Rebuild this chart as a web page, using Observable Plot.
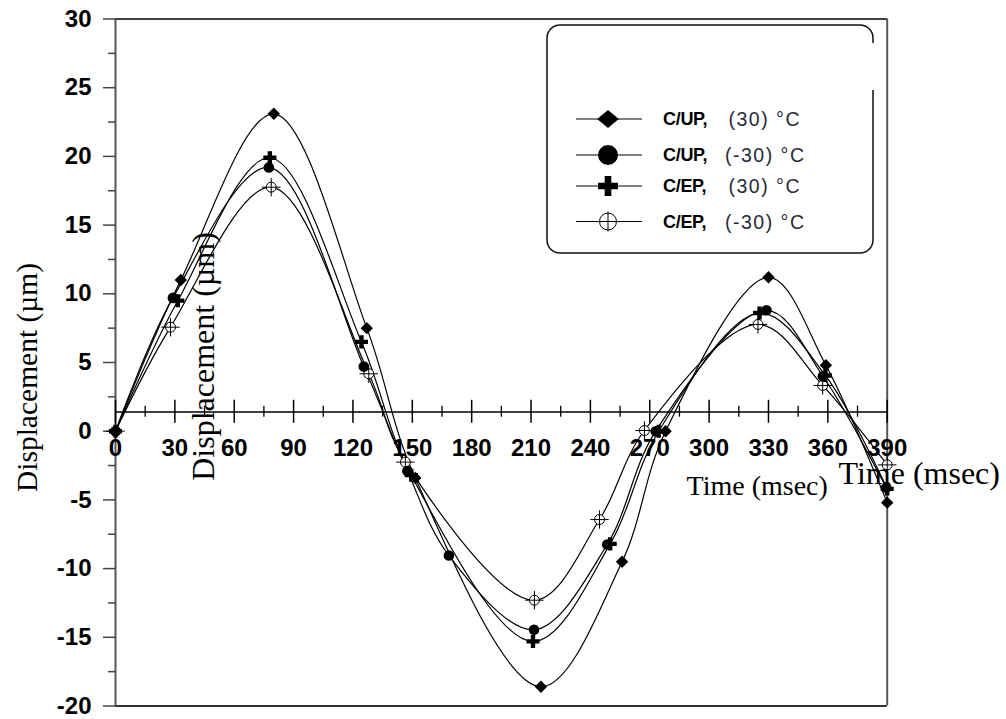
<!DOCTYPE html>
<html><head><meta charset="utf-8">
<script src="https://cdn.jsdelivr.net/npm/d3@7"></script>
<script src="https://cdn.jsdelivr.net/npm/@observablehq/plot@0.6"></script>
<style>
body{margin:0;background:#fff}
#wrap{position:relative;width:1006px;height:719px;overflow:hidden}
#wrap svg{display:block}
</style>
</head><body><div id="wrap"></div>
<script>
// ---- data ----
const seriesNames = ["C/UP,", "C/UP,", "C/EP,", "C/EP,"];
const seriesTemps = ["(30) °C", "(-30) °C", "(30) °C", "(-30) °C"];

const timeUP30 = [0, 33, 80, 127, 151.5, 215, 256, 278, 330, 359, 390];
const dispUP30 = [0, 11.0, 23.1, 7.5, -3.4, -18.6, -9.5, 0, 11.2, 4.8, -5.2];

const timeUPm30 = [0, 29, 77.5, 125.5, 147.5, 168.5, 211.5, 248.5, 273, 329, 357.5, 389.5];
const dispUPm30 = [0, 9.7, 19.2, 4.7, -2.9, -9.05, -14.45, -8.25, 0, 8.8, 4.0, -4.1];

const timeEP30 = [0, 31.5, 78, 124.3, 149.5, 211, 250, 274.5, 325.5, 358.8, 390];
const dispEP30 = [0, 9.5, 19.9, 6.5, -3.2, -15.3, -8.2, 0, 8.6, 4.05, -4.2];

const timeEPm30 = [0, 27.8, 78.7, 128, 146.5, 211.7, 244.6, 267.3, 324.7, 357.4, 390];
const dispEPm30 = [0, 7.57, 17.76, 4.18, -2.25, -12.3, -6.43, 0.05, 7.77, 3.33, -2.45];

const xTicksMajor = [0, 30, 60, 90, 120, 150, 180, 210, 240, 270, 300, 330, 360, 390];
const xTicksMinor = [15, 45, 75, 105, 135, 165, 195, 225, 255, 285, 315, 345, 375];
const yTicksMajor = [-20, -15, -10, -5, 0, 5, 10, 15, 20, 25, 30];
const yTicksMinor = [-17.5, -12.5, -7.5, -2.5, 2.5, 7.5, 12.5, 17.5, 22.5, 27.5];
const yLabel = "Displacement (\u00b5m)";
const xLabel = "Time (msec)";
const xAxisAt = 1.4; // level where the time axis line crosses

const toRows = (t, v) => t.map((d, i) => ({t: d, v: v[i]}));
const s1 = toRows(timeUP30, dispUP30);
const s2 = toRows(timeUPm30, dispUPm30);
const s3 = toRows(timeEP30, dispEP30);
const s4 = toRows(timeEPm30, dispEPm30);

const lineOpts = {x: "t", y: "v", curve: "catmull-rom", stroke: "black", strokeWidth: 1.2};
const serif = "'Liberation Serif', 'Times New Roman', serif";

const chart = Plot.plot({
  width: 1006, height: 719,
  marginLeft: 115, marginRight: 119.3, marginTop: 18.5, marginBottom: 13.5,
  x: {domain: [0, 390], axis: null},
  y: {domain: [-20, 30]},
  style: {fontFamily: "'Liberation Sans', Arial, sans-serif", background: "white", overflow: "visible"},
  marks: [
    // frame
    Plot.ruleY([30], {stroke: "black", strokeWidth: 1.3}),
    Plot.ruleY([-20], {stroke: "#333", strokeWidth: 1.8}),
    Plot.ruleX([390], {stroke: "#555", strokeWidth: 2}),
    Plot.ruleX([0], {stroke: "#555", strokeWidth: 2}),
    // y axis
    Plot.axisY(yTicksMajor, {tickSize: 12, tickPadding: 12, fontSize: 24, fontWeight: "bold",
      stroke: "#444", strokeWidth: 1.5, fill: "black", tickFormat: d => String(d), label: null}),
    Plot.axisY(yTicksMinor, {tickSize: 7, stroke: "#444", strokeWidth: 1.5, tickFormat: () => "", label: null}),
    // time axis line with crossing ticks
    Plot.ruleY([xAxisAt], {x1: 0, x2: 390, stroke: "black", strokeWidth: 1.5}),
    Plot.ruleX(xTicksMajor, {x: d => d, y1: xAxisAt + 0.85, y2: xAxisAt - 0.82, stroke: "black", strokeWidth: 1.5}),
    Plot.ruleX(xTicksMinor, {x: d => d, y1: xAxisAt + 0.42, y2: xAxisAt - 0.38, stroke: "black", strokeWidth: 1.3}),
    Plot.text(xTicksMajor, {x: d => d, y: 0, dy: 17.5, text: d => String(d), fontSize: 24, fontWeight: "bold", fill: "black"}),
    // curves
    Plot.line(s1, lineOpts),
    Plot.line(s2, lineOpts),
    Plot.line(s3, lineOpts),
    Plot.line(s4, lineOpts),
    // markers
    Plot.dot(s4, {x: "t", y: "v", symbol: "circle", r: 5, fill: "white", stroke: "black", strokeWidth: 1}),
    Plot.dot(s4, {x: "t", y: "v", symbol: "plus", r: 6, stroke: "black", strokeWidth: 1}),
    Plot.dot(s3, {x: "t", y: "v", symbol: "cross", r: 5.5, fill: "black", stroke: null}),
    Plot.dot(s2, {x: "t", y: "v", symbol: "circle", r: 5.3, fill: "black", stroke: null}),
    Plot.dot(s1, {x: "t", y: "v", symbol: "diamond2", r: 5.6, fill: "black", stroke: null}),
    // axis titles
    Plot.text([yLabel], {frameAnchor: "left", dx: -88, dy: 15, rotate: -90, textAnchor: "middle", lineAnchor: "middle",
      fontFamily: serif, fontSize: 29.5, fill: "black"}),
    Plot.text([yLabel], {frameAnchor: "left", dx: 88, dy: -6, rotate: -90, textAnchor: "middle", lineAnchor: "middle",
      fontFamily: serif, fontSize: 32, fill: "black"}),
    Plot.text([xLabel], {frameAnchor: "bottom-right", dx: -130, dy: -219.5, textAnchor: "middle", lineAnchor: "middle",
      fontFamily: serif, fontSize: 28, fill: "black"}),
    Plot.text([xLabel], {frameAnchor: "bottom-right", dx: -48.7, dy: -232, textAnchor: "start", lineAnchor: "middle",
      fontFamily: serif, fontSize: 32, fill: "black"})
  ]
});
document.getElementById("wrap").appendChild(chart);

// ---- legend (overlay) ----
const leg = d3.select("#wrap").append("svg")
  .attr("width", 360).attr("height", 245)
  .style("position", "absolute").style("left", "540px").style("top", "20px")
  .style("overflow", "visible");
leg.append("rect").attr("x", 7).attr("y", 5).attr("width", 326).attr("height", 228)
  .attr("rx", 13).attr("fill", "white").attr("stroke", "#111").attr("stroke-width", 1.5);
leg.append("rect").attr("x", 325).attr("y", 23).attr("width", 20).attr("height", 47).attr("fill", "white");

const rowsY = [99, 135, 166, 201.5];
const symCx = 68;
rowsY.forEach((yy, i) => {
  const g = leg.append("g");
  g.append("line").attr("x1", 36).attr("x2", 102).attr("y1", yy).attr("y2", yy)
    .attr("stroke", "black").attr("stroke-width", 1.2);
  if (i === 0) {
    g.append("path").attr("d", d3.symbol(d3.symbolDiamond2, 240)())
      .attr("transform", `translate(${symCx},${yy}) scale(1.12,0.92)`).attr("fill", "black");
  } else if (i === 1) {
    g.append("circle").attr("cx", symCx).attr("cy", yy).attr("r", 10).attr("fill", "black");
  } else if (i === 2) {
    g.append("path").attr("d", d3.symbol(d3.symbolCross, 222)())
      .attr("transform", `translate(${symCx},${yy})`).attr("fill", "black");
  } else {
    g.append("circle").attr("cx", symCx).attr("cy", yy).attr("r", 8.5).attr("fill", "white")
      .attr("stroke", "black").attr("stroke-width", 1);
    g.append("path").attr("d", `M${symCx - 10},${yy}H${symCx + 10}M${symCx},${yy - 10}V${yy + 10}`)
      .attr("stroke", "black").attr("stroke-width", 1);
  }
  g.append("text").attr("x", 123).attr("y", yy).attr("dy", "0.36em")
    .attr("font-family", "'Liberation Sans', Arial, sans-serif").attr("font-weight", "bold")
    .attr("font-size", 18).attr("letter-spacing", "-0.3").attr("fill", "black").text(seriesNames[i]);
  g.append("text").attr("x", seriesTemps[i].startsWith("(-") ? 185 : 188.5).attr("y", yy).attr("dy", "0.36em")
    .attr("font-family", "'Liberation Sans', Arial, sans-serif")
    .attr("font-size", 19.5).attr("letter-spacing", "1.5").attr("fill", "#2a2a3a").text(seriesTemps[i]);
});
</script></body></html>
